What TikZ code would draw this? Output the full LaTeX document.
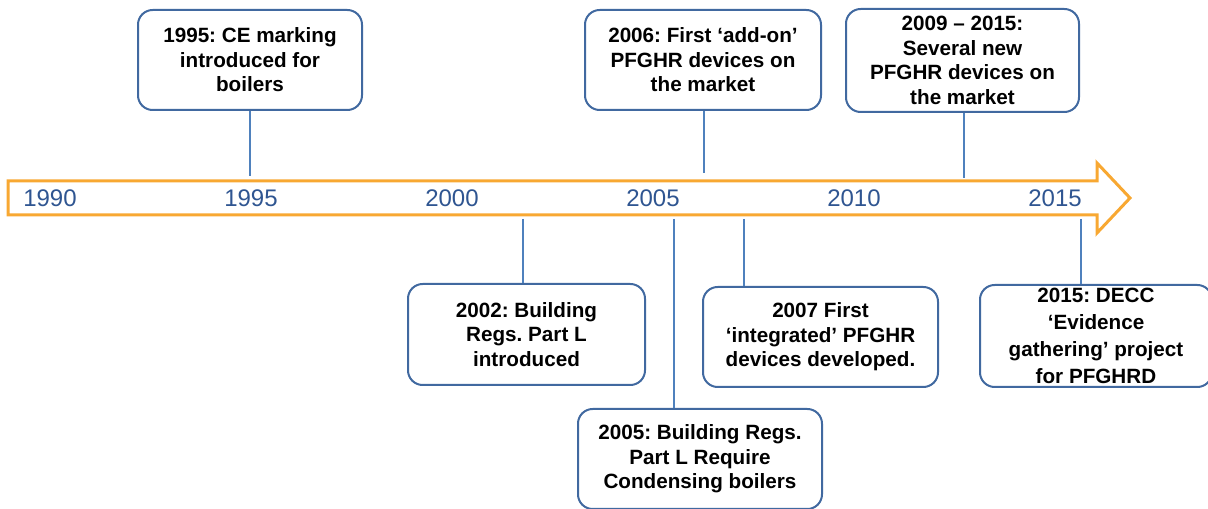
\documentclass[tikz,border=0pt]{standalone}
\usepackage{fontspec}
\setmainfont{Liberation Sans}
\usepackage{tikz}
\usetikzlibrary{calc}
\frenchspacing

\definecolor{arroworange}{RGB}{248,168,50}
\definecolor{yearblue}{RGB}{47,85,145}
\definecolor{boxblue}{RGB}{65,105,160}
\definecolor{tickblue}{RGB}{79,129,189}

\tikzset{
  event/.style={draw=boxblue, line width=1.5pt, rounded corners=11pt, fill=white,
    align=center, inner sep=2pt, font=\fontsize{15.5}{18.4}\selectfont\bfseries},
  year/.style={text=yearblue, font=\fontsize{18}{20}\selectfont},
  tick/.style={draw=tickblue, line width=1.2pt}
}

\begin{document}
\begin{tikzpicture}[x=0.75pt,y=-0.75pt]
    \useasboundingbox (0,0) rectangle (1208,509);
    % timeline arrow
    \draw[arroworange, line width=2.25pt, fill=white, line join=miter]
        (8,181) -- (1097,181) -- (1097,163) -- (1130,198)
        -- (1097,233) -- (1097,215) -- (8,215) -- cycle;
    \foreach \yr [count=\i from 0] in {1990,1995,2000,2005,2010,2015}
        \node[year] (y\yr) at (50+201*\i,198) {\yr}; % year labels
    % events above the arrow
    \node[event, minimum width=168pt, minimum height=75pt] (ev1995) at (250,60)
        {1995: CE marking\\introduced for\\boilers};
    \node[event, minimum width=177pt, minimum height=75pt] (ev2006) at (703,60)
        {2006: First ‘add-on’\\PFGHR devices on\\the market};
    \node[event, minimum width=174.75pt, minimum height=77.25pt] (ev2009) at (962.5,60.5)
        {2009 – 2015:\\Several new\\PFGHR devices on\\the market};
    % events below the arrow
    \node[event, minimum width=177.75pt, minimum height=75.75pt] (ev2002) at (526.5,334.5)
        {2002: Building\\Regs. Part L\\introduced};
    \node[event, minimum width=183pt, minimum height=75pt] (ev2005) at (700,459)
        {2005: Building Regs.\\Part L Require\\Condensing boilers};
    \node[event, minimum width=176.25pt, minimum height=75pt] (ev2007) at (820.5,337)
        {2007 First\\‘integrated’ PFGHR\\devices developed.};
    \node[event, minimum width=174pt, minimum height=76.5pt,
          font=\fontsize{15.5}{20.2}\selectfont\bfseries] (ev2015) at (1096,336)
        {2015: DECC\\‘Evidence\\gathering’ project\\for PFGHRD};
    % where the ticks meet the arrow
    \coordinate (t1995) at (250,176);
    \coordinate (t2006) at (704,173);
    \coordinate (t2009) at (964,178);
    \coordinate (t2002) at (523,219);
    \coordinate (t2005) at (674,219);
    \coordinate (t2007) at (744,219);
    \coordinate (t2015) at (1081,219);
    \foreach \ev in {1995,2006,2009}
        \draw[tick] (t\ev |- ev\ev.south) -- (t\ev);
    \foreach \ev in {2002,2005,2007,2015}
        \draw[tick] (t\ev) -- (t\ev |- ev\ev.north);
\end{tikzpicture}
\end{document}
